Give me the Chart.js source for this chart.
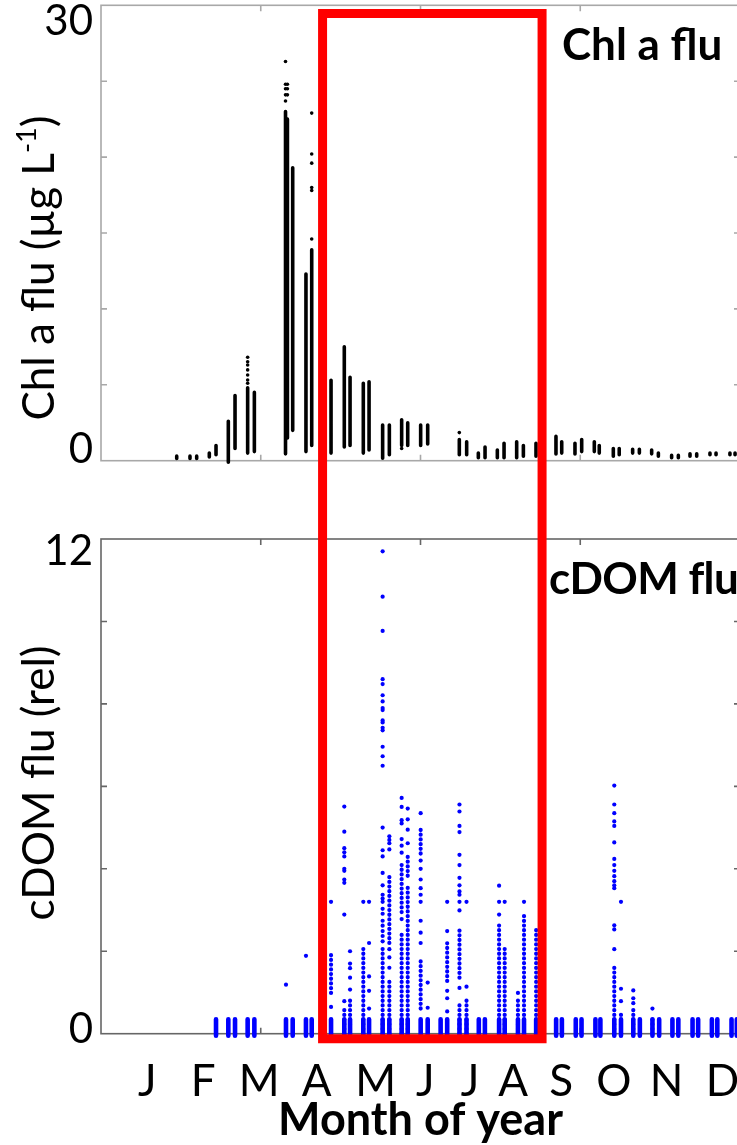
<!DOCTYPE html>
<html><head><meta charset="utf-8">
<script src="https://cdn.jsdelivr.net/npm/chart.js@4.4.1/dist/chart.umd.min.js"></script>
<style>
html,body{margin:0;padding:0;background:#fff;overflow:hidden;width:737px;height:1145px;position:relative;}
canvas{position:absolute;left:0;}
#c1{top:0;} #c2{top:500px;}
</style></head><body>
<canvas id="c1" width="745" height="500"></canvas>
<canvas id="c2" width="745" height="645"></canvas>
<script>
// ---------- axis / label data ----------
const months = ['J','F','M','A','M','J','J','A','S','O','N','D'];
const monthPos = [29, 64, 99, 135, 172, 203, 231, 258, 288, 321, 354, 389];
const xTickVals = [100, 200, 300];
const chlMinorTicks = [5, 10, 15, 20, 25];
const cdomMinorTicks = [2, 4, 6, 8, 10];
const chlAxisValues = [0, 30];
const chlAxisLabels = ['0', '30'];
const cdomAxisValues = [0, 12];
const cdomAxisLabels = ['0', '12'];
// highlighted window (red box)
const boxStart = 138.7, boxEnd = 276.1, boxChlTop = 29.46, boxCdomBottom = -0.12;

// ---------- Chl a flu: dense vertical runs of samples ----------
const chlStripDay = [47.4,55.7,59.9,67.8,72.0,79.7,83.9,91.8,96.0,115.5,116.7,120.0,128.3,131.9,144.0,152.3,155.9,164.2,167.8,176.3,180.5,188.2,192.0,200.1,204.5,224.3,228.9,236.2,240.4,248.1,252.3,260.2,264.4,272.3,284.8,288.4,296.7,300.9,308.8,311.9,320.7,324.4,332.8,337.0,344.7,348.9,357.2,361.4,368.7,372.9,381.2,385.0,393.7,396.9];
const chlStripLo  = [0.15,0.15,0.15,0.25,0.4,-0.1,0.8,0.5,0.6,0.45,1.5,2.0,0.6,1.0,0.5,0.9,1.0,0.5,0.7,0.16,0.4,1.0,1.0,1.0,1.1,0.4,0.4,0.2,0.2,0.2,0.2,0.2,0.3,0.3,0.44,0.5,0.44,0.6,0.6,0.5,0.3,0.4,0.5,0.5,0.45,0.3,0.2,0.2,0.3,0.3,0.4,0.4,0.4,0.4];
const chlStripHi  = [0.3,0.3,0.3,0.5,1.0,2.6,4.3,4.8,4.5,23.0,22.5,19.3,12.3,13.9,5.3,7.5,5.5,5.1,5.2,2.35,2.35,2.7,2.5,2.35,2.35,1.4,1.25,0.5,0.9,0.7,1.15,1.25,1.0,1.15,1.6,1.25,1.15,1.4,1.25,1.0,0.8,0.8,0.75,0.75,0.7,0.5,0.35,0.35,0.45,0.45,0.5,0.5,0.5,0.5];
// Chl a flu: isolated samples
const chlPtDay  = [91.8, 115.5, 116.7, 131.9, 188.2, 224.3];
const chlPtVals = [
  [6.81,6.52,6.3,5.98,5.65,5.32,5.1],
  [26.3,24.8,24.5,24.1,23.7],
  [24.8,24.5,24.1],
  [22.9,20.2,19.6,18.0,17.8,14.6],
  [0.8],
  [1.85]
];

// ---------- cDOM flu: near-zero clusters ----------
const cdomBaseDay = [72.0,79.7,83.9,91.8,96.0,115.8,120.0,128.3,131.9,144.0,152.3,155.9,164.2,167.8,176.3,180.5,188.2,192.0,200.1,204.5,212.6,216.7,224.4,228.8,236.5,240.3,249.2,252.7,261.0,264.8,272.4,284.9,288.5,297.2,300.8,309.5,312.6,321.3,325.5,333.2,337.3,345.2,349.4,357.7,361.4,370.3,373.8,382.4,385.8,394.7,398.0];
const cdomBaseLo  = [-0.05,-0.05,-0.05,-0.05,-0.05,-0.05,-0.05,-0.05,-0.05,-0.05,-0.05,-0.05,-0.05,-0.05,-0.05,-0.05,-0.05,-0.05,-0.05,-0.05,-0.05,-0.05,-0.05,-0.05,-0.05,-0.05,-0.05,-0.05,-0.05,-0.05,-0.05,-0.05,-0.05,-0.05,-0.05,-0.05,-0.05,-0.05,-0.05,-0.05,-0.05,-0.05,-0.05,-0.05,-0.05,-0.05,-0.05,-0.05,-0.05,-0.05,-0.05];
const cdomBaseHi  = [0.35,0.35,0.35,0.35,0.35,0.35,0.35,0.35,0.35,0.35,0.35,0.35,0.35,0.35,0.35,0.35,0.35,0.35,0.35,0.35,0.35,0.35,0.35,0.35,0.35,0.35,0.35,0.35,0.35,0.35,0.35,0.35,0.35,0.35,0.35,0.35,0.35,0.35,0.35,0.35,0.35,0.35,0.35,0.35,0.35,0.35,0.35,0.35,0.35,0.35,0.35];
// cDOM flu: dense vertical runs
const cdomStripDay = [144.0,152.3,155.9,164.2,176.3,180.5,180.5,188.2,188.2,192.0,192.0,200.1,200.1,216.7,224.4,224.4,228.8,249.2,252.7,261.0,264.8,272.4,321.3,325.5,333.2,345.2];
const cdomStripLo  = [0.99,0,0,0,0,2.2,0,2.95,0,3.83,0,4.37,0.61,1.28,1.36,0,0,0,0,0,0,0,0,0,0,0];
const cdomStripHi  = [1.99,0.6,0.9,2.1,2.12,3.87,1.32,4.2,2.4,4.37,3.62,5.04,1.78,2.28,2.57,0.74,0.9,2.7,2.14,0.82,2.87,2.61,1.61,0.48,0.6,0.44];
// cDOM flu: isolated samples
const cdomPtDay  = [115.8,128.3,144.0,152.3,155.9,164.2,167.8,176.3,180.5,188.2,192.0,200.1,204.5,216.7,224.4,228.8,249.2,252.7,261.0,264.8,321.3,325.5,333.2,345.2];
const cdomPtVals = [
  [1.19],
  [1.89],
  [3.2,0.65],
  [5.51,4.9,4.5,4.4,4.3,4.0,3.95,3.74,3.66,2.89,0.79],
  [2.0,1.7,1.59,1.36,1.07],
  [3.2],
  [3.2,2.2,1.39,1.04,0.61],
  [11.7,10.6,9.77,8.6,8.48,8.21,8.06,7.9,7.85,7.6,7.55,7.42,7.36,6.96,6.73,6.5,5.0,4.45,4.3,3.9,3.6,3.37,3.28,3.2,3.03,2.91,2.74,2.62,2.49,2.37,2.24],
  [4.79,4.7,4.62,4.47,2.05,1.85,1.6],
  [5.72,5.5,5.18,5.1,4.72,4.56,4.39,2.78],
  [5.46,5.2,4.95,4.62],
  [5.35,4.2,4.0,3.74,3.53,3.37,3.2,2.74,2.45,2.2],
  [1.24,0.63],
  [3.2,2.49,1.04,0.86,0.54],
  [5.56,5.39,5.04,4.89,4.34,4.09,3.78,3.6,3.45,3.37,3.2,2.99,1.11],
  [3.2,1.14],
  [3.59,3.2,2.89],
  [3.2],
  [0.99],
  [3.2],
  [6.02,5.56,5.35,5.15,5.04,4.64,4.24,4.09,3.95,3.82,3.7,3.6,3.53,2.63,2.53,2.05],
  [3.2,1.09,0.79],
  [1.05,0.86,0.74],
  [0.61]
];

// ---------- helpers ----------
const FONT = 'Lato, "Open Sans", "DejaVu Sans", sans-serif';
function segs(days, lo, hi) {
  const out = [];
  days.forEach((d, i) => { out.push({x: d, y: lo[i]}, {x: d, y: hi[i]}, {x: d, y: null}); });
  return out;
}
function pts(days, vals) {
  const out = [];
  days.forEach((d, i) => vals[i].forEach(v => out.push({x: d, y: v})));
  return out;
}
function txt(ctx, s, x, y, size, weight, align, spacing) {
  ctx.font = weight + ' ' + size + 'px ' + FONT;
  ctx.textAlign = align; ctx.textBaseline = 'alphabetic';
  ctx.fillStyle = '#000';
  if ('letterSpacing' in ctx) ctx.letterSpacing = (spacing || 0) + 'px';
  ctx.fillText(s, x, y);
  if ('letterSpacing' in ctx) ctx.letterSpacing = '0px';
}
function rotTitle(ctx, parts, baseX, cy, size) {
  ctx.save();
  ctx.translate(baseX, cy);
  ctx.rotate(-Math.PI / 2);
  ctx.fillStyle = '#000'; ctx.textBaseline = 'alphabetic'; ctx.textAlign = 'left';
  let total = 0;
  parts.forEach(p => { ctx.font = (p.sup ? size * 0.62 : size) + 'px ' + FONT; total += ctx.measureText(p.t).width; });
  let xx = -total / 2;
  parts.forEach(p => {
    ctx.font = (p.sup ? size * 0.62 : size) + 'px ' + FONT;
    ctx.fillText(p.t, xx, p.sup ? -size * 0.40 : 0);
    xx += ctx.measureText(p.t).width;
  });
  ctx.restore();
}

function panelPlugin(p) {
  return {
    id: 'panel',
    beforeDatasetsDraw(chart) {
      const ctx = chart.ctx, a = chart.chartArea, x = chart.scales.x, y = chart.scales.y;
      ctx.save();
      ctx.strokeStyle = p.frameColor; ctx.lineWidth = 1.6;
      ctx.strokeRect(a.left, a.top, a.right - a.left, a.bottom - a.top);
      ctx.beginPath();
      xTickVals.forEach(v => {
        const px = x.getPixelForValue(v);
        ctx.moveTo(px, a.bottom); ctx.lineTo(px, a.bottom - 6);
        ctx.moveTo(px, a.top); ctx.lineTo(px, a.top + 6);
      });
      p.yTicks.forEach(v => {
        const py = y.getPixelForValue(v);
        ctx.moveTo(a.left, py); ctx.lineTo(a.left + 6, py);
        ctx.moveTo(a.right, py); ctx.lineTo(a.right - 6, py);
      });
      ctx.stroke();
      ctx.restore();
    },
    afterDatasetsDraw(chart) {
      const ctx = chart.ctx, a = chart.chartArea, x = chart.scales.x, y = chart.scales.y;
      const H = chart.height;
      // red highlight box
      ctx.save();
      ctx.strokeStyle = '#ff0000'; ctx.lineWidth = 9; ctx.lineJoin = 'miter'; ctx.lineCap = 'butt';
      const xl = x.getPixelForValue(boxStart), xr = x.getPixelForValue(boxEnd);
      ctx.beginPath();
      if (p.top) {
        const yt = y.getPixelForValue(boxChlTop);
        ctx.moveTo(xl, H + 10); ctx.lineTo(xl, yt); ctx.lineTo(xr, yt); ctx.lineTo(xr, H + 10);
      } else {
        const yb = y.getPixelForValue(boxCdomBottom);
        ctx.moveTo(xl, -10); ctx.lineTo(xl, yb); ctx.lineTo(xr, yb); ctx.lineTo(xr, -10);
      }
      ctx.stroke();
      ctx.restore();
      // y tick labels
      ctx.save();
      p.axisValues.forEach((v, i) => {
        txt(ctx, p.axisLabels[i], 93, y.getPixelForValue(v) + p.labelDy[i], 42, '400', 'right');
      });
      // y title
      rotTitle(ctx, p.yTitle, 54, p.yTitleCy, p.yTitleSize);
      // panel name
      txt(ctx, p.name, p.nameX, p.nameY, p.nameSize, '700', 'left', p.nameSpacing);
      if (!p.top) {
        months.forEach((m, i) => txt(ctx, m, x.getPixelForValue(monthPos[i]), a.bottom + 62, 44, '400', 'center'));
        txt(ctx, 'Month of year', (a.left + a.right) / 2, a.bottom + 101, 45, '700', 'center');
      }
      ctx.restore();
    }
  };
}

function opts(pad, yMin, yMax) {
  return {
    responsive: false, animation: false, devicePixelRatio: 1, events: [],
    layout: { padding: pad },
    plugins: { legend: { display: false }, tooltip: { enabled: false }, title: { display: false } },
    scales: {
      x: { type: 'linear', min: 0, max: 400, display: false },
      y: { type: 'linear', min: yMin, max: yMax, display: false }
    }
  };
}

new Chart(document.getElementById('c1'), {
  type: 'scatter',
  data: { datasets: [
    { label: 'Chl a flu runs', data: segs(chlStripDay, chlStripLo, chlStripHi), showLine: true, spanGaps: false,
      borderColor: '#000', borderWidth: 3.6, borderCapStyle: 'round', pointRadius: 0, clip: false },
    { label: 'Chl a flu', data: pts(chlPtDay, chlPtVals), showLine: false,
      pointRadius: 1.8, pointBackgroundColor: '#000', pointBorderWidth: 0, clip: false }
  ]},
  options: opts({ left: 101, right: 5, top: 5.3, bottom: 39.3 }, 0, 30),
  plugins: [panelPlugin({
    top: true, frameColor: '#a8a8a8', yTicks: chlMinorTicks,
    axisValues: chlAxisValues, axisLabels: chlAxisLabels, labelDy: [2.3, 30],
    yTitle: [{t: 'Chl a flu (\u00B5g L'}, {t: '-1', sup: true}, {t: ')'}], yTitleCy: 268, yTitleSize: 44,
    name: 'Chl a flu', nameX: 562, nameY: 60, nameSize: 44, nameSpacing: 0
  })]
});

new Chart(document.getElementById('c2'), {
  type: 'scatter',
  data: { datasets: [
    { label: 'cDOM near zero', data: segs(cdomBaseDay, cdomBaseLo, cdomBaseHi), showLine: true, spanGaps: false,
      borderColor: '#0000ff', borderWidth: 4.6, borderCapStyle: 'round', pointRadius: 0, clip: false },
    { label: 'cDOM runs', data: segs(cdomStripDay, cdomStripLo, cdomStripHi), showLine: true, spanGaps: false,
      borderColor: '#0000ff', borderWidth: 4.2, borderCapStyle: 'round', borderDash: [0.1, 4.6], pointRadius: 0, clip: false },
    { label: 'cDOM flu', data: pts(cdomPtDay, cdomPtVals), showLine: false,
      pointRadius: 2.1, pointBackgroundColor: '#0000ff', pointBorderWidth: 0, clip: false }
  ]},
  options: opts({ left: 101, right: 5, top: 39, bottom: 111.3 }, 0, 12),
  plugins: [panelPlugin({
    top: false, frameColor: '#666666', yTicks: cdomMinorTicks,
    axisValues: cdomAxisValues, axisLabels: cdomAxisLabels, labelDy: [9.3, 26],
    yTitle: [{t: 'cDOM flu (rel)'}], yTitleCy: 283, yTitleSize: 44,
    name: 'cDOM flu', nameX: 549, nameY: 94, nameSize: 44, nameSpacing: -0.6
  })]
});
</script>
</body></html>
